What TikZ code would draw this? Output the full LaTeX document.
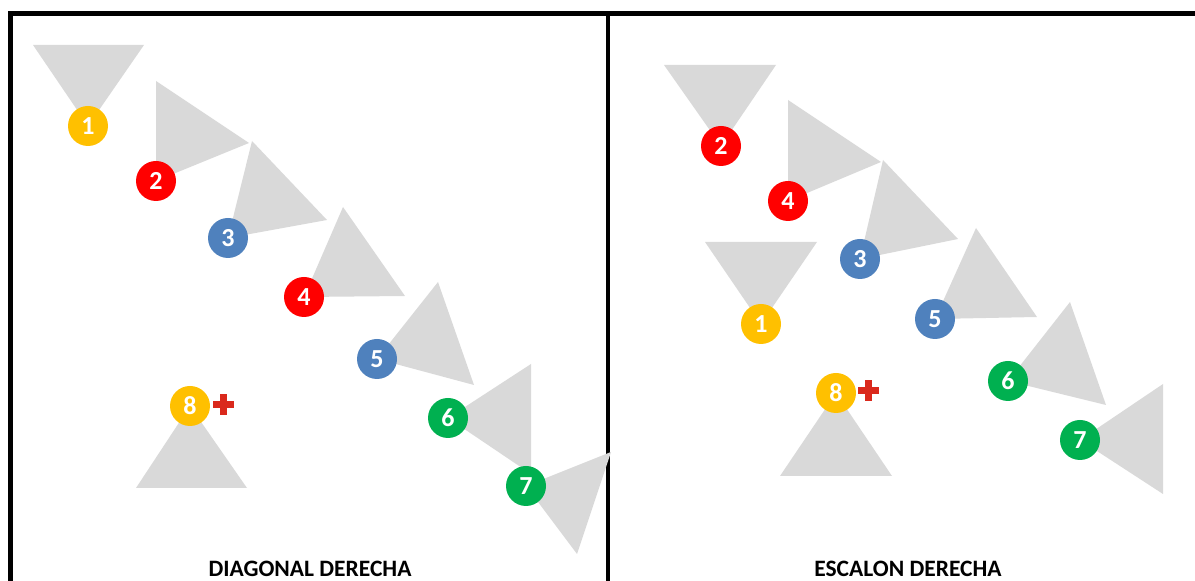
\documentclass[tikz,border=0pt]{standalone}
\usepackage{fontspec}
\setmainfont{Carlito}
\usetikzlibrary{backgrounds}

\definecolor{fovgray}{RGB}{217,217,217}
\definecolor{pyellow}{RGB}{255,192,0}
\definecolor{pred}{RGB}{255,0,0}
\definecolor{pblue}{RGB}{79,129,189}
\definecolor{pgreen}{RGB}{0,176,80}
\definecolor{crossred}{RGB}{218,41,28}

\tikzset{
  redcross/.pic={
    \fill[crossred] (-10.5,-3.5) rectangle (10.5,3.5);
    \fill[crossred] (-3.5,-10.5) rectangle (3.5,10.5);
  }
}

\begin{document}
\begin{tikzpicture}[x=1pt,y=1pt,
    player/.style={circle, fill=#1, minimum size=40pt, inner sep=0pt,
      text=white, font=\fontsize{26}{26}\selectfont\bfseries},
    fov/.style={fill=fovgray},
    panel/.style={line width=4.5pt},
    caption/.style={anchor=base, inner sep=0pt, font=\fontsize{23.5}{24}\selectfont\bfseries}]
    \useasboundingbox (0,0) rectangle (1195,581);

    % diagonal derecha
    \node[player=pyellow] (d1) at (88,455) {1};
    \node[player=pred]    (d2) at (156,400) {2};
    \node[player=pblue]   (d3) at (228,343) {3};
    \node[player=pred]    (d4) at (304,284) {4};
    \node[player=pblue]   (d5) at (377,222) {5};
    \node[player=pgreen]  (d6) at (448,163) {6};
    \node[player=pgreen]  (d7) at (526,95) {7};
    \node[player=pyellow] (d8) at (190,175) {8};
    \pic at (223.5,176) {redcross};
    \node[caption] (dcap) at (310,4.5) {DIAGONAL DERECHA};

    % escalon derecha
    \node[player=pyellow] (e1) at (761,257) {1};
    \node[player=pred]    (e2) at (721,435) {2};
    \node[player=pblue]   (e3) at (860,322) {3};
    \node[player=pred]    (e4) at (788,380) {4};
    \node[player=pblue]   (e5) at (935,262) {5};
    \node[player=pgreen]  (e6) at (1008,200) {6};
    \node[player=pgreen]  (e7) at (1080,141) {7};
    \node[player=pyellow] (e8) at (836,188) {8};
    \pic at (868,190) {redcross};
    \node[caption] (ecap) at (908,4.5) {ESCALON DERECHA};

    \begin{scope}[on background layer]
      \draw[panel] (8,567.5) -- (1195,567.5);
      \draw[panel] (10.3,569.7) -- (10.3,0);
      \draw[panel] (608,569.7) -- (608,0);

      \fill[fov] (d1.center) -- (33,536) -- (144,536) -- cycle;
      \fill[fov] (d2.center) -- (156,500) -- (249,438) -- cycle;
      \fill[fov] (d3.center) -- (252,440) -- (327,361) -- cycle;
      \fill[fov] (d4.center) -- (343,374) -- (405,285) -- cycle;
      \fill[fov] (d5.center) -- (438,299) -- (474,196) -- cycle;
      \fill[fov] (d6.center) -- (531,217) -- (531,107) -- cycle;
      \fill[fov] (d7.center) -- (611,129) -- (577,27) -- cycle;
      \fill[fov] (d8.center) -- (136,93) -- (247,93) -- cycle;

      \fill[fov] (e1.center) -- (705,339) -- (817,339) -- cycle;
      \fill[fov] (e2.center) -- (664,516) -- (776,516) -- cycle;
      \fill[fov] (e3.center) -- (883,421) -- (958,342) -- cycle;
      \fill[fov] (e4.center) -- (788,481) -- (881,419) -- cycle;
      \fill[fov] (e5.center) -- (976,353) -- (1037,264) -- cycle;
      \fill[fov] (e6.center) -- (1070,279) -- (1106,176) -- cycle;
      \fill[fov] (e7.center) -- (1163,197) -- (1163,87) -- cycle;
      \fill[fov] (e8.center) -- (780,105) -- (892,105) -- cycle;
    \end{scope}
  \end{tikzpicture}
\end{document}
